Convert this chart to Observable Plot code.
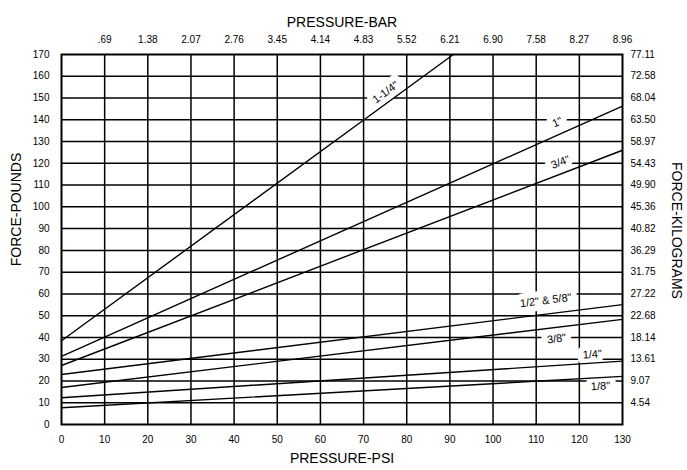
<!DOCTYPE html>
<html>
<head>
<meta charset="utf-8">
<script src="https://cdn.jsdelivr.net/npm/d3@7"></script>
<script src="https://cdn.jsdelivr.net/npm/@observablehq/plot@0.6"></script>
<style>
  html, body { margin: 0; padding: 0; background: #fff; }
</style>
</head>
<body>
<div id="chart"></div>
<script>
// ---- data ----
const psiTicks = [0, 10, 20, 30, 40, 50, 60, 70, 80, 90, 100, 110, 120, 130];
const barLabels = [".69", "1.38", "2.07", "2.76", "3.45", "4.14", "4.83", "5.52", "6.21", "6.90", "7.58", "8.27", "8.96"];
const lbTicks = [0, 10, 20, 30, 40, 50, 60, 70, 80, 90, 100, 110, 120, 130, 140, 150, 160, 170];
const kgLabels = ["4.54", "9.07", "13.61", "18.14", "22.68", "27.22", "31.75", "36.29", "40.82", "45.36", "49.90", "54.43", "58.97", "63.50", "68.04", "72.58", "77.11"];

const sizes = ['1-1/4"', '1"', '3/4"', '1/2" & 5/8"', '3/8"', '1/4"', '1/8"'];
const startForce = [38.5, 31.3, 27.1, 23, 17, 12.3, 7.7];   // force (lb) at 0 psi
const endPsi = [90.8, 130, 130, 130, 130, 130, 130];        // psi at line end
const endForce = [170, 146.3, 126, 55.1, 48.3, 29.1, 22.1]; // force (lb) at line end

const labelPsi = [75.1, 114.9, 115.6, 112.2, 114.7, 123, 124.9];
const labelForce = [152.6, 138.9, 120.5, 57, 39.4, 32.2, 17.6];

// ---- layout ----
const W = 687, H = 470;
const mL = 61, mR = 65, mT = 54, mB = 46;
const pxPerPsi = (W - mL - mR) / 130;
const pxPerLb = (H - mT - mB) / 170;

const barMap = new Map(psiTicks.slice(1).map((d, i) => [d, barLabels[i]]));
const kgMap = new Map(lbTicks.slice(1).map((d, i) => [d, kgLabels[i]]));

const lineRows = [];
sizes.forEach((s, i) => {
  lineRows.push({size: s, psi: 0, force: startForce[i]});
  lineRows.push({size: s, psi: endPsi[i], force: endForce[i]});
});

const labelRows = sizes.map((s, i) => {
  const slope = (endForce[i] - startForce[i]) / endPsi[i];
  return {
    size: s,
    psi: labelPsi[i],
    force: labelForce[i],
    angle: -Math.atan(slope * pxPerLb / pxPerPsi) * 180 / Math.PI
  };
});

const plot = Plot.plot({
  width: W,
  height: H,
  marginLeft: mL,
  marginRight: mR,
  marginTop: mT,
  marginBottom: mB,
  x: {domain: [0, 130]},
  y: {domain: [0, 170]},
  style: {fontFamily: "'Liberation Sans', Arial, sans-serif", fontSize: "10px", background: "#fff", color: "#000"},
  marks: [
    Plot.ruleX(psiTicks.slice(1, -1), {stroke: "#000", strokeWidth: 1.5}),
    Plot.ruleY(lbTicks.slice(1, -1), {stroke: "#000", strokeWidth: 1.5}),
    Plot.text(labelRows, {
      x: "psi", y: "force", text: "size", rotate: "angle",
      fill: "#000", stroke: "#fff", strokeWidth: 12, paintOrder: "stroke",
      fontSize: 11, textAnchor: "middle"
    }),
    Plot.line(lineRows, {x: "psi", y: "force", z: "size", stroke: "#000", strokeWidth: 1.4}),
    Plot.frame({stroke: "#000", strokeWidth: 2}),
    Plot.axisX(psiTicks, {anchor: "bottom", tickSize: 0, tickPadding: 11, label: null}),
    Plot.axisX(psiTicks.slice(1), {anchor: "top", tickSize: 0, tickPadding: 12, label: null, tickFormat: d => barMap.get(d)}),
    Plot.axisY(lbTicks, {anchor: "left", tickSize: 0, tickPadding: 12, label: null}),
    Plot.axisY(lbTicks.slice(1), {anchor: "right", tickSize: 0, tickPadding: 8, label: null, tickFormat: d => kgMap.get(d)}),
    Plot.text(["PRESSURE-BAR"], {frameAnchor: "top", dy: -37, fontSize: 14, textAnchor: "middle"}),
    Plot.text(["PRESSURE-PSI"], {frameAnchor: "bottom", dy: 38, fontSize: 14, textAnchor: "middle"}),
    Plot.text(["FORCE-POUNDS"], {frameAnchor: "left", dx: -45, dy: -30, rotate: -90, fontSize: 14, textAnchor: "middle"}),
    Plot.text(["FORCE-KILOGRAMS"], {frameAnchor: "right", dx: 54, dy: -9, rotate: 90, fontSize: 14, textAnchor: "middle"})
  ]
});
document.getElementById("chart").appendChild(plot);
</script>
</body>
</html>
